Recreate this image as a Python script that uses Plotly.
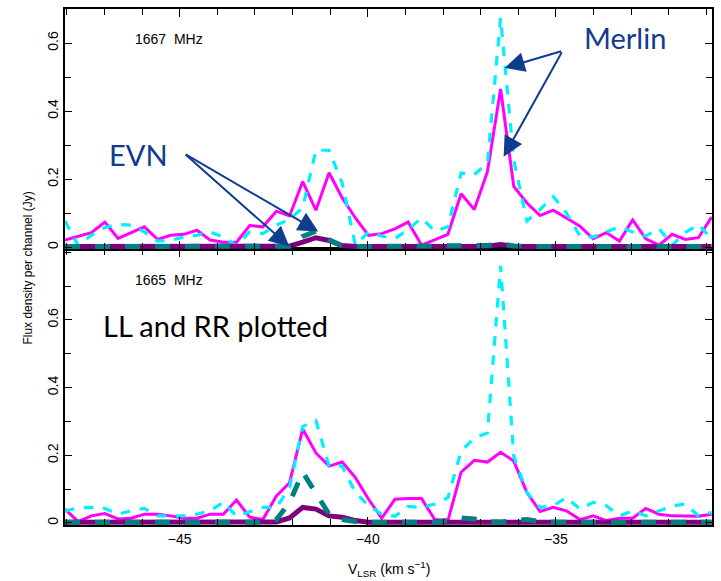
import plotly.graph_objects as go

# Channel velocities (km/s)
velocity = [-48.05, -47.70, -47.35, -46.99, -46.64, -46.29, -45.94, -45.59, -45.24, -44.89,
            -44.54, -44.19, -43.84, -43.49, -43.14, -42.79, -42.43, -42.08, -41.73, -41.38,
            -41.03, -40.68, -40.33, -39.98, -39.63, -39.28, -38.93, -38.57, -38.22, -37.87,
            -37.52, -37.17, -36.82, -36.47, -36.12, -35.77, -35.42, -35.07, -34.72, -34.36,
            -34.01, -33.66, -33.31, -32.96, -32.61, -32.26, -31.91, -31.56, -31.21, -30.86]

# 1667 MHz panel
merlin_ll_1667 = [0.021, 0.032, 0.043, 0.074, 0.026, 0.043, 0.060, 0.023, 0.035, 0.038,
                  0.050, 0.021, 0.015, 0.015, 0.064, 0.060, 0.106, 0.092, 0.193, 0.109,
                  0.219, 0.145, 0.086, 0.035, 0.040, 0.054, 0.074, 0.006, 0.023, 0.038,
                  0.157, 0.111, 0.222, 0.465, 0.179, 0.130, 0.093, 0.109, 0.086, 0.062,
                  0.025, 0.043, 0.018, 0.080, 0.025, 0.006, 0.038, 0.023, 0.028, 0.089]
merlin_rr_1667 = [0.077, 0.005, 0.035, 0.058, 0.067, 0.065, 0.045, 0.018, 0.020, 0.030,
                  0.035, 0.045, 0.030, 0.005, 0.045, 0.040, 0.065, 0.082, 0.116, 0.285,
                  0.285, 0.188, 0.006, 0.045, 0.033, 0.025, 0.052, 0.086, 0.047, 0.060,
                  0.218, 0.213, 0.247, 0.674, 0.256, 0.077, 0.111, 0.149, 0.101, 0.033,
                  0.030, 0.045, 0.060, 0.045, 0.033, 0.055, 0.006, 0.043, 0.067, 0.024]
evn_ll_1667 = [0.002, 0.002, 0.002, 0.002, 0.002, 0.002, 0.002, 0.002, 0.002, 0.002,
               0.002, 0.002, 0.002, 0.002, 0.002, 0.002, 0.002, 0.003, 0.015, 0.028,
               0.020, 0.005, 0.002, 0.002, 0.002, 0.002, 0.002, 0.002, 0.002, 0.002,
               0.002, 0.002, 0.003, 0.008, 0.003, 0.002, 0.002, 0.002, 0.002, 0.002,
               0.002, 0.002, 0.002, 0.002, 0.002, 0.002, 0.002, 0.002, 0.002, 0.002]
evn_rr_1667 = [0.002, 0.002, 0.002, 0.002, 0.002, 0.002, 0.002, 0.002, 0.002, 0.002,
               0.002, 0.002, 0.002, 0.002, 0.002, 0.002, 0.002, 0.003, 0.032, 0.047,
               0.022, 0.003, 0.002, 0.002, 0.002, 0.002, 0.002, 0.002, 0.002, 0.003,
               0.005, 0.004, 0.005, 0.010, 0.004, 0.002, 0.002, 0.002, 0.002, 0.002,
               0.002, 0.002, 0.002, 0.002, 0.002, 0.002, 0.002, 0.002, 0.002, 0.002]

# 1665 MHz panel
merlin_ll_1665 = [0.041, 0.004, 0.021, 0.028, 0.012, 0.014, 0.026, 0.026, 0.021, 0.014,
                  0.014, 0.026, 0.026, 0.068, 0.017, 0.010, 0.080, 0.119, 0.278, 0.207,
                  0.168, 0.180, 0.134, 0.070, 0.014, 0.070, 0.072, 0.072, 0.010, 0.007,
                  0.150, 0.185, 0.180, 0.209, 0.183, 0.090, 0.034, 0.046, 0.036, 0.010,
                  0.021, 0.007, 0.014, 0.014, 0.043, 0.026, 0.021, 0.020, 0.020, 0.026]
merlin_rr_1665 = [0.035, 0.045, 0.046, 0.043, 0.026, 0.036, 0.043, 0.021, 0.021, 0.021,
                  0.026, 0.036, 0.061, 0.020, 0.033, 0.046, 0.046, 0.105, 0.285, 0.303,
                  0.168, 0.168, 0.090, 0.051, 0.026, 0.020, 0.049, 0.046, 0.056, 0.075,
                  0.212, 0.251, 0.266, 0.760, 0.197, 0.090, 0.046, 0.051, 0.075, 0.041,
                  0.061, 0.051, 0.021, 0.036, 0.021, 0.035, 0.050, 0.056, 0.021, 0.031]
evn_ll_1665 = [0.002, 0.002, 0.002, 0.002, 0.002, 0.002, 0.002, 0.002, 0.002, 0.002,
               0.002, 0.002, 0.002, 0.002, 0.002, 0.002, 0.003, 0.015, 0.046, 0.041,
               0.021, 0.017, 0.007, 0.002, 0.002, 0.002, 0.002, 0.002, 0.002, 0.002,
               0.002, 0.002, 0.002, 0.002, 0.002, 0.002, 0.002, 0.002, 0.002, 0.002,
               0.002, 0.002, 0.002, 0.002, 0.002, 0.002, 0.002, 0.002, 0.002, 0.002]
evn_rr_1665 = [0.002, 0.002, 0.002, 0.002, 0.002, 0.002, 0.002, 0.002, 0.002, 0.002,
               0.002, 0.002, 0.002, 0.002, 0.002, 0.002, 0.010, 0.060, 0.150, 0.085,
               0.026, 0.010, 0.004, 0.002, 0.002, 0.002, 0.002, 0.002, 0.002, 0.008,
               0.015, 0.012, 0.004, 0.003, 0.006, 0.010, 0.004, 0.002, 0.002, 0.002,
               0.002, 0.002, 0.002, 0.002, 0.002, 0.002, 0.002, 0.002, 0.002, 0.002]

y_tick_values = [0, 0.2, 0.4, 0.6]
y_tick_labels = ["0", "0.2", "0.4", "0.6"]

MAG = "#ff00ff"
CYAN = "#00f0ff"
PURPLE = "#7f007f"
TEAL = "#008080"
BLUE = "#0f3c8f"

fig = go.Figure()

def add_panel(xa, ya, ll, rr, evll, evrr):
    fig.add_trace(go.Scatter(x=velocity, y=ll, mode="lines", xaxis=xa, yaxis=ya,
                             line=dict(color=MAG, width=3), showlegend=False))
    fig.add_trace(go.Scatter(x=velocity, y=rr, mode="lines", xaxis=xa, yaxis=ya,
                             line=dict(color=CYAN, width=3.2, dash="dash"), showlegend=False))
    fig.add_trace(go.Scatter(x=velocity, y=evll, mode="lines", xaxis=xa, yaxis=ya,
                             line=dict(color=PURPLE, width=5), showlegend=False))
    fig.add_trace(go.Scatter(x=velocity, y=evrr, mode="lines", xaxis=xa, yaxis=ya,
                             line=dict(color=TEAL, width=5, dash="dash"), showlegend=False))

add_panel("x2", "y2", merlin_ll_1667, merlin_rr_1667, evn_ll_1667, evn_rr_1667)
add_panel("x", "y", merlin_ll_1665, merlin_rr_1665, evn_ll_1665, evn_rr_1665)

tickfont = dict(family="Liberation Sans, Arial, sans-serif", size=14, color="black")
xcommon = dict(range=[-48.05, -30.85], tick0=-45, dtick=5, ticks="inside", ticklen=8,
               tickwidth=1.4, tickcolor="black", showline=True, linecolor="black",
               linewidth=1.6, mirror="ticks", showgrid=False, zeroline=False,
               minor=dict(dtick=1, ticks="inside", ticklen=6, tickwidth=1.4, tickcolor="black"),
               tickfont=tickfont)
ycommon = dict(tickmode="array", tickvals=y_tick_values, ticktext=y_tick_labels,
               ticks="inside", ticklen=7, tickwidth=1.4, tickcolor="black",
               showline=True, linecolor="black", linewidth=1.6, mirror="ticks",
               showgrid=False, zeroline=False, tickangle=-90,
               tickfont=tickfont)

split = 0.535
fig.update_layout(
    width=721, height=581,
    margin=dict(l=65, r=7, t=8, b=56),
    paper_bgcolor="white", plot_bgcolor="white",
    xaxis=dict(domain=[0, 1], anchor="y", **xcommon),
    xaxis2=dict(domain=[0, 1], anchor="y2", matches="x", showticklabels=False, **xcommon),
    yaxis=dict(domain=[0, split], anchor="x", range=[-0.006, 0.81],
               minor=dict(tickmode="array", tickvals=[0.1, 0.3, 0.5, 0.7, 0.8], ticks="inside",
                          ticklen=6, tickwidth=1.4, tickcolor="black"), **ycommon),
    yaxis2=dict(domain=[split, 1], anchor="x2", range=[-0.005, 0.70],
                minor=dict(tickmode="array", tickvals=[0.1, 0.3, 0.5], ticks="inside",
                           ticklen=6, tickwidth=1.4, tickcolor="black"), **ycommon),
    showlegend=False,
)

W = 721 - 65 - 7
H = 581 - 8 - 56

def px(xp):
    return (xp - 65) / W

def py(yp):
    return (581 - 56 - yp) / H

ann = []
small = dict(family="Liberation Sans, Arial, sans-serif", size=14, color="black")
ann.append(dict(x=px(133), y=py(38), xref="paper", yref="paper", text="1667  MHz",
                showarrow=False, xanchor="left", yanchor="middle", font=small))
ann.append(dict(x=px(133), y=py(280), xref="paper", yref="paper", text="1665  MHz",
                showarrow=False, xanchor="left", yanchor="middle", font=small))
big = dict(family="Lato, Noto Sans, sans-serif", size=29)
ann.append(dict(x=px(101), y=py(325), xref="paper", yref="paper", text="LL and RR plotted",
                showarrow=False, xanchor="left", yanchor="middle", font=dict(big, color="black")))
ann.append(dict(x=px(107), y=py(154), xref="paper", yref="paper", text="EVN",
                showarrow=False, xanchor="left", yanchor="middle", font=dict(big, color=BLUE)))
ann.append(dict(x=px(584), y=py(37), xref="paper", yref="paper", text="Merlin",
                showarrow=False, xanchor="left", yanchor="middle", font=dict(big, color=BLUE)))
# arrows: (head_x, head_y, tail_x, tail_y) in pixels
arrows = [(290, 246, 185, 153), (319, 231, 185, 153), (506, 67, 564, 50), (505, 156, 564, 50)]
for hx, hy, tx, ty in arrows:
    ann.append(dict(x=px(hx), y=py(hy), xref="paper", yref="paper", ax=tx - hx, ay=ty - hy,
                    axref="pixel", ayref="pixel", text="", showarrow=True, arrowhead=2,
                    arrowsize=2, arrowwidth=2, arrowcolor=BLUE, standoff=0))
ann.append(dict(x=px(28), y=py(268), xref="paper", yref="paper",
                text="Flux density per channel (Jy)", showarrow=False, textangle=-90,
                xanchor="center", yanchor="middle",
                font=dict(family="Liberation Sans, Arial, sans-serif", size=12, color="black")))
ann.append(dict(x=0.5, y=py(569), xref="paper", yref="paper",
                text="V<sub>LSR</sub> (km s<sup>−1</sup>)", showarrow=False,
                xanchor="center", yanchor="middle",
                font=dict(family="Liberation Sans, Arial, sans-serif", size=14, color="black")))
fig.update_layout(annotations=ann)

fig.write_html("out.html", config={"displayModeBar": False},
               post_script="document.body.style.margin='0';document.body.style.overflow='hidden';")
